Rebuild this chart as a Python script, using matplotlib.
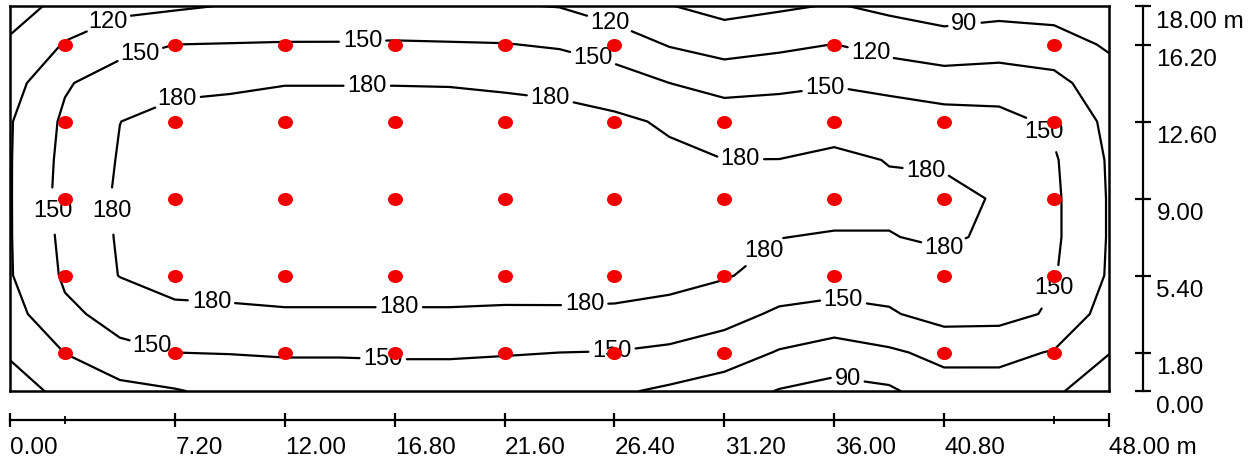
import numpy as np
import matplotlib
matplotlib.use('Agg')
import matplotlib.pyplot as plt
from matplotlib.markers import MarkerStyle
from matplotlib.transforms import Affine2D

plt.rcParams['font.family'] = ['Liberation Sans', 'DejaVu Sans']

# ---- data -------------------------------------------------------------
grid_x = [0.0, 2.4, 4.8, 7.2, 9.6, 12.0, 14.4, 16.8, 19.2, 21.6, 24.0,
          26.4, 28.8, 31.2, 33.6, 36.0, 38.4, 40.8, 43.2, 45.6, 48.0]
grid_y = [0.0, 1.8, 3.6, 5.4, 7.2, 9.0, 10.8, 12.6, 14.4, 16.2, 18.0]

# illuminance estimated at the grid nodes (rows = grid_y, cols = grid_x)
lux_y00 = [70, 102, 110, 118, 128, 130, 130, 131, 131, 130, 129, 124, 115.3, 105, 88.4, 80.3, 85.3, 107.9, 108, 95, 70]
lux_y18 = [95, 120.5, 145, 150, 151, 153, 153, 154, 154, 152, 150, 149, 144, 135, 117.7, 107.3, 115.7, 127.7, 127.6, 118, 91]
lux_y36 = [108, 145, 158, 174, 175, 177, 177, 177, 177, 176, 177, 177, 172, 160.7, 145.3, 140, 147, 161, 159.9, 146, 106]
lux_y54 = [118, 154, 181, 190, 192, 194, 194, 194, 194, 193, 190, 188, 188, 182.4, 169, 165, 163, 170, 168, 152, 117]
lux_y72 = [118.5, 157, 183, 194, 196, 198, 198, 198, 198, 197, 195, 192, 190, 187, 180.5, 178, 179, 184, 175, 155, 118]
lux_y90 = [118.5, 160, 184, 195, 197, 199, 199, 199, 199, 198, 196, 192, 190, 186, 186, 190, 185, 186, 178, 155, 118]
lux_y108 = [118.5, 158, 182, 194, 196, 198, 198, 198, 198, 197, 195, 190, 186, 180.2, 180.5, 186, 179, 177, 173, 153, 117]
lux_y126 = [118, 155, 179.8, 188, 190, 193, 193, 193, 193, 192, 191, 186, 176, 165, 160, 168, 162, 160.5, 158.9, 145.3, 113]
lux_y144 = [108, 147, 165, 174, 176, 179, 179, 179, 178.5, 176, 172, 163, 150, 140.5, 146, 148, 144, 136.9, 136, 128, 104]
lux_y162 = [95, 122, 140, 150, 151, 152, 152, 153, 152, 151, 147, 137, 118, 107, 113, 120.5, 108, 98.9, 105.7, 104, 86]
lux_y180 = [75, 100, 112, 116, 121.5, 123, 124, 125, 124, 122, 119, 105, 91, 80.4, 86, 92, 84, 80, 80, 76, 65]

levels = [90, 120, 150, 180]

# luminaire positions
lamp_x = [2.4, 7.2, 12.0, 16.8, 21.6, 26.4, 31.2, 36.0, 40.8, 45.6]
lamp_y = [1.8, 5.4, 9.0, 12.6, 16.2]
lamp_present = [
    [1, 1, 1, 1, 1, 1, 1, 0, 1, 1],
    [1, 1, 1, 1, 1, 1, 1, 1, 1, 1],
    [1, 1, 1, 1, 1, 1, 1, 1, 1, 1],
    [1, 1, 1, 1, 1, 1, 1, 1, 1, 1],
    [1, 1, 1, 1, 1, 1, 0, 1, 0, 1],
]

# axis scales
x_ticks_major = [0.0, 7.2, 12.0, 16.8, 21.6, 26.4, 31.2, 36.0, 40.8, 48.0]
x_tick_labels = ['0.00', '7.20', '12.00', '16.80', '21.60', '26.40',
                 '31.20', '36.00', '40.80', '48.00 m']
x_ticks_minor = [2.4, 45.6]
y_ticks = [0.0, 1.8, 5.4, 9.0, 12.6, 16.2, 18.0]
y_tick_labels = ['0.00', '1.80', '5.40', '9.00', '12.60', '16.20', '18.00 m']

# where the contour labels sit (layout)
label_spots = [
    (4.3, 17.25), (26.2, 17.25), (37.6, 15.85), (41.7, 17.0), (36.6, 0.65),
    (5.7, 15.7), (15.4, 16.27), (25.5, 15.7), (35.6, 14.2), (45.4, 12.3),
    (45.6, 4.8), (36.4, 4.25), (26.3, 1.7), (16.3, 1.6), (6.2, 2.0), (1.75, 8.4),
    (4.25, 8.4), (7.3, 13.7), (15.6, 14.2), (23.6, 13.7), (31.9, 10.8),
    (40.0, 10.2), (40.8, 6.0), (33.0, 6.45), (25.1, 4.0), (17.0, 3.8), (8.8, 4.2),
]

# ---- figure -----------------------------------------------------------
W, H = 1254, 459
fig = plt.figure(figsize=(W / 100, H / 100), dpi=100)

def px_rect(x0, y_top, x1, y_bot):
    return [x0 / W, (H - y_bot) / H, (x1 - x0) / W, (y_bot - y_top) / H]

ax = fig.add_axes(px_rect(10, 6, 1109, 391))
Z = np.array([lux_y00, lux_y18, lux_y36, lux_y54, lux_y72, lux_y90,
              lux_y108, lux_y126, lux_y144, lux_y162, lux_y180])
X, Y = np.meshgrid(grid_x, grid_y)
cs = ax.contour(X, Y, Z, levels=levels, colors='black', linewidths=1.6, zorder=2)
for coll in [cs]:
    try:
        coll.set_joinstyle('round')
        coll.set_capstyle('round')
    except Exception:
        pass
texts = ax.clabel(cs, fmt=lambda v: f'{v:.0f}', fontsize=17, inline=True,
                  inline_spacing=4, manual=label_spots)
for t in texts:
    t.set_rotation(0)
    t.set_zorder(3)

px_, py_ = [], []
for r, yv in enumerate(lamp_y):
    for c, xv in enumerate(lamp_x):
        if lamp_present[r][c]:
            px_.append(xv)
            py_.append(yv)
dot = MarkerStyle('o', transform=Affine2D().scale(1.0, 0.87))
ax.plot(px_, py_, linestyle='none', marker=dot, markersize=10.8,
        color='#f20000', markeredgewidth=0, zorder=5)

ax.set_xlim(0, 48)
ax.set_ylim(0, 18)
ax.set_xticks([])
ax.set_yticks([])
for s in ax.spines.values():
    s.set_linewidth(1.8)
    s.set_color('black')

# ---- bottom scale -----------------------------------------------------
axx = fig.add_axes([10 / W, (H - 420) / H, 1099 / W, 0.0005])
axx.set_xlim(0, 48)
axx.set_ylim(0, 1)
for k in ['top', 'left', 'right']:
    axx.spines[k].set_visible(False)
axx.spines['bottom'].set_linewidth(1.6)
axx.patch.set_visible(False)
axx.set_yticks([])
axx.set_xticks(x_ticks_major)
axx.set_xticks(x_ticks_minor, minor=True)
axx.tick_params(axis='x', which='major', direction='inout', length=10.5,
                width=1.6, labelbottom=False)
axx.tick_params(axis='x', which='minor', direction='inout', length=5.5,
                width=1.3, labelbottom=False)
for v, lab in zip(x_ticks_major, x_tick_labels):
    axx.annotate(lab, xy=(v, 0), xycoords=('data', 'axes fraction'),
                 xytext=(0.3, -12.3), textcoords='offset points',
                 ha='left', va='top', fontsize=17.5, annotation_clip=False)

# ---- right scale ------------------------------------------------------
axy = fig.add_axes([1142.5 / W, (H - 391) / H, 0.0005, 385 / H])
axy.set_ylim(0, 18)
axy.set_xlim(0, 1)
for k in ['top', 'bottom', 'right']:
    axy.spines[k].set_visible(False)
axy.spines['left'].set_linewidth(1.6)
axy.patch.set_visible(False)
axy.set_xticks([])
axy.set_yticks(y_ticks)
axy.tick_params(axis='y', direction='inout', length=12, width=1.6,
                labelleft=False)
for v, lab in zip(y_ticks, y_tick_labels):
    axy.annotate(lab, xy=(0, v), xycoords=('axes fraction', 'data'),
                 xytext=(10.0, -3.4), textcoords='offset points',
                 ha='left', va='top', fontsize=17.5, annotation_clip=False)

fig.savefig('out.png', dpi=100)
